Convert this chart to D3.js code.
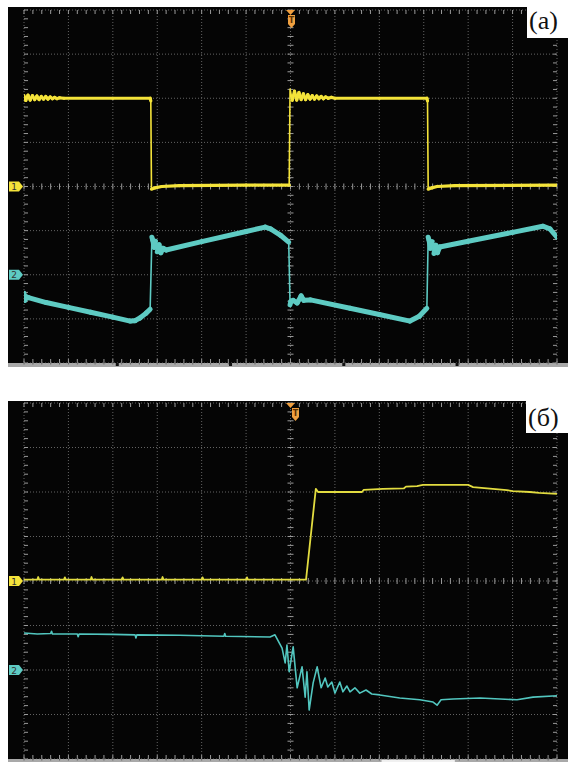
<!DOCTYPE html>
<html><head><meta charset="utf-8">
<script src="https://cdn.jsdelivr.net/npm/d3@7"></script>
<style>body{margin:0;background:#fff}svg{display:block}</style>
</head><body>
<svg id="c" width="568" height="769"></svg>
<script>
// ---- data (time in horizontal divisions, amplitude in vertical divisions from screen centre) ----
const xDomain = [0, 12];
const yDomain = [-4, 4];
const panelLabels = ["(а)", "(б)"];
const channelLabels = ["1", "2"];
const channelLevels = [0, -2];          // ground markers of channel 1 and 2 (div)
const triggerTime = 6;                   // trigger position (div)

// panel (а), channel 1 (yellow)
const ch1A = [
  [0.00,2.06],[0.04,1.95],[0.09,2.07],[0.14,1.96],[0.19,2.06],[0.24,1.97],[0.29,2.05],[0.34,1.97],
  [0.39,2.04],[0.44,1.98],[0.49,2.04],[0.54,1.98],[0.59,2.03],[0.64,1.99],[0.69,2.02],[0.74,1.99],
  [0.80,2.01],[0.90,2.00],[2.00,2.00],[2.84,2.00],[2.855,1.94],[2.87,-0.06],[2.95,-0.03],[3.10,0.00],
  [3.50,0.02],[5.00,0.03],[5.97,0.03],
  [5.99,2.21],[6.04,1.95],[6.09,2.16],[6.14,1.96],[6.19,2.13],[6.24,1.97],[6.29,2.10],[6.34,1.97],
  [6.39,2.08],[6.44,1.98],[6.49,2.06],[6.54,1.98],[6.59,2.05],[6.64,1.99],[6.69,2.04],[6.74,1.99],
  [6.79,2.03],[6.85,2.00],[6.92,2.02],[7.00,2.00],[8.00,2.00],[9.07,2.00],[9.085,1.94],[9.10,-0.06],
  [9.18,-0.03],[9.30,0.00],[9.70,0.02],[12.00,0.03]
];
// panel (а), channel 2 (cyan)
const ch2A = [
  [0.00,-2.42],[0.02,-2.58],[0.05,-2.50],[0.10,-2.52],[0.50,-2.63],[1.00,-2.74],[1.50,-2.85],[2.00,-2.96],
  [2.39,-3.05],[2.50,-3.04],[2.61,-2.98],[2.75,-2.87],[2.84,-2.78],
  [2.88,-1.15],[2.90,-1.22],[2.93,-1.38],[2.96,-1.24],[3.00,-1.48],[3.04,-1.32],[3.08,-1.50],[3.13,-1.40],
  [3.20,-1.44],[4.00,-1.25],[5.00,-1.02],[5.43,-0.92],[5.55,-0.96],[5.77,-1.10],[5.96,-1.26],
  [5.99,-2.68],[6.01,-2.60],[6.06,-2.58],[6.15,-2.64],[6.24,-2.48],[6.30,-2.58],[6.45,-2.57],[7.34,-2.76],
  [8.00,-2.90],[8.69,-3.05],[8.90,-2.94],[9.07,-2.76],
  [9.10,-1.15],[9.12,-1.22],[9.15,-1.40],[9.19,-1.25],[9.23,-1.52],[9.27,-1.33],[9.31,-1.50],[9.36,-1.37],
  [10.00,-1.24],[11.00,-1.04],[11.68,-0.90],[11.84,-0.96],[12.00,-1.15]
];
// panel (б), channel 1 (yellow)
const ch1B = [
  [0.00,0.03],[0.30,0.03],[0.32,0.09],[0.34,0.03],[0.90,0.03],[0.92,0.08],[0.94,0.03],[1.50,0.03],
  [1.52,0.09],[1.54,0.03],[2.20,0.03],[2.22,0.08],[2.24,0.03],[3.10,0.03],[3.12,0.09],[3.14,0.03],
  [4.00,0.03],[4.02,0.08],[4.04,0.03],[5.00,0.03],[5.02,0.08],[5.04,0.03],[6.35,0.03],
  [6.57,2.07],[6.62,2.00],[7.61,2.00],[7.65,2.05],[8.08,2.07],[8.55,2.08],[8.60,2.12],[8.85,2.13],
  [8.98,2.16],[10.00,2.16],[10.11,2.11],[10.87,2.04],[11.00,2.02],[11.39,2.00],[11.60,1.98],[12.00,1.96]
];
// panel (б), channel 2 (cyan)
const ch2B = [
  [0.00,-1.17],[0.30,-1.19],[0.60,-1.18],[0.62,-1.13],[0.64,-1.19],[1.20,-1.19],[1.22,-1.25],[1.24,-1.19],
  [2.00,-1.20],[2.50,-1.21],[2.52,-1.28],[2.54,-1.21],[3.50,-1.22],[4.50,-1.24],[4.52,-1.18],[4.54,-1.24],
  [5.54,-1.26],[5.65,-1.21],[5.81,-1.51],[5.88,-1.84],[5.92,-1.44],[5.97,-2.04],[6.06,-1.48],[6.15,-2.40],
  [6.26,-1.93],[6.33,-2.61],[6.37,-2.04],[6.42,-2.90],[6.51,-2.29],[6.60,-1.93],[6.69,-2.40],[6.78,-2.18],
  [6.84,-2.38],[6.93,-2.27],[7.00,-2.52],[7.11,-2.27],[7.18,-2.49],[7.27,-2.36],[7.34,-2.49],[7.45,-2.40],
  [7.56,-2.52],[7.70,-2.45],[7.83,-2.54],[8.01,-2.56],[8.46,-2.63],[8.91,-2.67],[9.21,-2.72],[9.30,-2.79],
  [9.39,-2.67],[9.66,-2.65],[10.27,-2.63],[11.10,-2.67],[11.46,-2.61],[12.00,-2.58]
];

// ---- layout / style ----
const svg = d3.select("#c");
const panels = [
  { label: panelLabels[0], black: [8, 7, 568, 363], plot: [24, 10, 557, 363], strip: [363, 367],
    ch1: ch1A, ch2: ch2A, w1: 3.2, w2: 5, c1: "#f4e33a", c2: "#5ecbc3", trigShift: 0, thinEdges: true,
    box: [527, 0, 41, 38], labelY: 29 },
  { label: panelLabels[1], black: [8, 401, 568, 759], plot: [24, 403, 557, 759], strip: [759, 762],
    ch1: ch1B, ch2: ch2B, w1: 1.8, w2: 1.6, c1: "#e2dc40", c2: "#52c6bf", trigShift: 4, thinEdges: false,
    box: [526, 401, 42, 32], labelY: 426 }
];
const chColors = ["#f4e33a", "#5ecbc3"];

panels.forEach((p, pi) => {
  const [bx0, by0, bx1, by1] = p.black;
  const [x0, y0, x1, y1] = p.plot;
  const x = d3.scaleLinear().domain(xDomain).range([x0, x1]);
  const y = d3.scaleLinear().domain(yDomain).range([y1, y0]);
  const g = svg.append("g");

  g.append("rect").attr("x", bx0).attr("y", by0).attr("width", bx1 - bx0).attr("height", by1 - by0).attr("fill", "#050505");
  g.append("rect").attr("x", bx0).attr("y", p.strip[0]).attr("width", bx1 - bx0).attr("height", p.strip[1] - p.strip[0]).attr("fill", "#a9a9a9");

  // grid
  const grid = g.append("g").attr("stroke", "#8c8c8c").attr("stroke-width", 1).attr("stroke-dasharray", "1,2").attr("opacity", 0.7);
  x.ticks(12).forEach(t => grid.append("line").attr("x1", x(t)).attr("x2", x(t)).attr("y1", y0).attr("y2", y1));
  y.ticks(8).forEach(v => grid.append("line").attr("x1", x0).attr("x2", x1).attr("y1", y(v)).attr("y2", y(v)));

  // minor ticks
  const ticks = g.append("g").attr("stroke", "#9a9a9a").attr("stroke-width", 1);
  const minorT = d3.range(0, 12.001, 0.2);
  const minorV = d3.range(-4, 4.001, 0.2);
  minorT.forEach(t => {
    ticks.append("line").attr("x1", x(t)).attr("x2", x(t)).attr("y1", y0).attr("y2", y0 + 4);
    ticks.append("line").attr("x1", x(t)).attr("x2", x(t)).attr("y1", y1).attr("y2", y1 - 4);
    ticks.append("line").attr("x1", x(t)).attr("x2", x(t)).attr("y1", y(0) - 3).attr("y2", y(0) + 3);
  });
  minorV.forEach(v => {
    ticks.append("line").attr("x1", x0).attr("x2", x0 + 4).attr("y1", y(v)).attr("y2", y(v));
    ticks.append("line").attr("x1", x1).attr("x2", x1 - 4).attr("y1", y(v)).attr("y2", y(v));
    ticks.append("line").attr("x1", x(6) - 3).attr("x2", x(6) + 3).attr("y1", y(v)).attr("y2", y(v));
  });
  minorT.forEach(t => {
    g.append("line").attr("x1", x(t)).attr("x2", x(t)).attr("y1", p.strip[0]).attr("y2", p.strip[0] + 1.5).attr("stroke", "#666").attr("stroke-width", 1);
  });
  if (pi === 0) {
    [2.1, 4.65, 7.2, 9.75].forEach(t => g.append("rect").attr("x", x(t) - 1.5).attr("y", p.strip[0]).attr("width", 3).attr("height", 3).attr("fill", "#111"));
  } else {
    g.append("rect").attr("x", x(8.05)).attr("y", p.strip[0] + 1).attr("width", x(9.7) - x(8.05)).attr("height", 2).attr("fill", "#f0f0f0");
  }

  // traces
  const clipId = "clip" + pi;
  svg.append("clipPath").attr("id", clipId).append("rect").attr("x", x0).attr("y", y0 - 2).attr("width", x1 - x0).attr("height", y1 - y0 + 2);
  const line = d3.line().x(d => x(d[0])).y(d => y(d[1]));
  const tg = g.append("g").attr("clip-path", `url(#${clipId})`);
  const drawTrace = (data, color, w) => {
    if (!p.thinEdges) {
      tg.append("path").datum(data).attr("d", line).attr("fill", "none").attr("stroke", color)
        .attr("stroke-width", w).attr("stroke-linejoin", "round");
      return;
    }
    // fast edges are drawn thin, slow parts as the wide phosphor band
    tg.append("path").datum(data).attr("d", line).attr("fill", "none").attr("stroke", color)
      .attr("stroke-width", 1.6).attr("stroke-linejoin", "round");
    d3.pairs(data).forEach(([a, b]) => {
      const dx = Math.abs(x(b[0]) - x(a[0])), dy = Math.abs(y(b[1]) - y(a[1]));
      if (dy > 4 * dx && dy > 10) return;
      tg.append("path").datum([a, b]).attr("d", line).attr("fill", "none").attr("stroke", color)
        .attr("stroke-width", w).attr("stroke-linecap", "round");
    });
  };
  drawTrace(p.ch2, p.c2, p.w2);
  drawTrace(p.ch1, p.c1, p.w1);

  // channel markers
  channelLevels.forEach((lv, ci) => {
    const yy = y(lv);
    g.append("path").attr("d", `M9,${yy - 5}H19L23,${yy}L19,${yy + 5}H9Z`).attr("fill", chColors[ci]);
    g.append("text").attr("x", 14).attr("y", yy + 3.5).attr("text-anchor", "middle").attr("font-family", "DejaVu Sans, sans-serif").attr("font-size", 9).attr("fill", "#333").text(channelLabels[ci]);
  });

  // trigger marker
  const tx = x(triggerTime);
  g.append("path").attr("d", `M${tx - 4.5},${y0}L${tx + 4.5},${y0}L${tx},${y0 + 5}Z`).attr("fill", "#f0a040");
  const sx = tx + p.trigShift + 1;
  g.append("path").attr("d", `M${sx - 3.5},${y0 + 5}H${sx + 3.5}V${y0 + 14}L${sx},${y0 + 18}L${sx - 3.5},${y0 + 14}Z`).attr("fill", "#f0a040");
  g.append("text").attr("x", sx).attr("y", y0 + 13).attr("text-anchor", "middle").attr("font-family", "DejaVu Sans, sans-serif").attr("font-size", 8).attr("font-weight", "bold").attr("fill", "#5a3000").text("T");

  // panel label
  g.append("rect").attr("x", p.box[0]).attr("y", p.box[1]).attr("width", p.box[2]).attr("height", p.box[3]).attr("fill", "#fff");
  g.append("text").attr("x", p.box[0] + 2).attr("y", p.labelY).attr("font-family", "'Liberation Serif', 'Times New Roman', serif").attr("font-size", 26).attr("fill", "#111").text(p.label);
});
</script>
</body></html>
